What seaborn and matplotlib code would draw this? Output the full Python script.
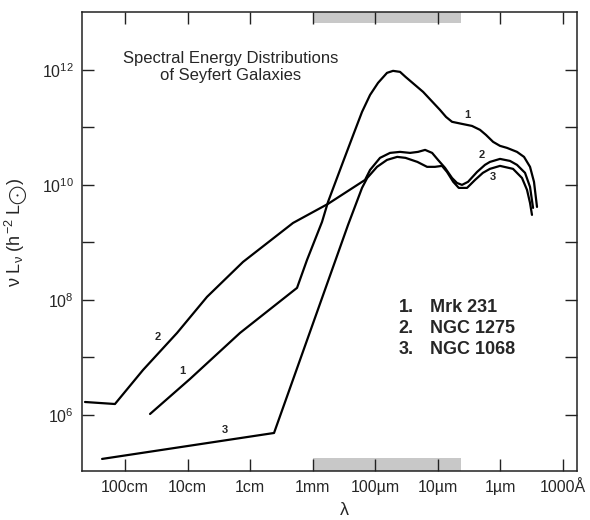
import numpy as np
import pandas as pd
import matplotlib
matplotlib.use("Agg")
import matplotlib.pyplot as plt
import matplotlib.ticker as mticker
import seaborn as sns

sns.set_style("ticks")
plt.rcParams["font.family"] = ["Liberation Sans", "DejaVu Sans"]
plt.rcParams["mathtext.fontset"] = "custom"
plt.rcParams["mathtext.rm"] = "Liberation Sans"
plt.rcParams["mathtext.it"] = "Liberation Sans"
plt.rcParams["mathtext.bf"] = "Liberation Sans:bold"

# wavelength (cm) and nu L_nu (h^-2 L_sun)
mrk231_lam = [39.8, 9.12, 1.445, 0.177, 0.1225, 0.0705, 0.0565, 0.0325, 0.0223,
              0.01614, 0.0120, 0.00895, 0.00643, 0.00515, 0.00398, 0.00325, 0.0017,
              9.12e-4, 7.31e-4, 5.86e-4, 4.06e-4, 2.81e-4, 2.09e-4, 1.68e-4, 1.29e-4,
              1.0e-4, 7.73e-5, 5.35e-5, 4.13e-5, 3.31e-5, 2.86e-5, 2.56e-5]
mrk231_lum = [1.04e6, 4.23e6, 2.67e7, 1.62e8, 4.96e8, 2.27e9, 5.06e9, 2.51e10, 7.41e10,
              1.86e11, 3.67e11, 5.94e11, 8.87e11, 9.61e11, 9.23e11, 7.55e11, 4.14e11,
              2.01e11, 1.52e11, 1.25e11, 1.15e11, 1.06e11, 9.06e10, 7.41e10, 5.60e10,
              4.77e10, 4.40e10, 3.75e10, 3.07e10, 2.06e10, 1.13e10, 4.14e9]

ngc1275_lam = [437, 145, 51.5, 14.7, 4.88, 1.294, 0.205, 0.0565, 0.01445, 0.0120,
               0.00832, 0.00575, 0.00398, 0.00275, 0.00205, 0.00158, 0.00122, 9.82e-4,
               7.59e-4, 5.86e-4, 4.88e-4, 4.06e-4, 3.25e-4, 2.33e-4, 1.74e-4, 1.45e-4,
               1.0e-4, 6.92e-5, 5.35e-5, 3.98e-5, 3.31e-5, 2.96e-5]
ngc1275_lum = [1.68e6, 1.55e6, 6.06e6, 2.67e7, 1.13e8, 4.58e8, 2.18e9, 4.68e9, 1.22e10,
               1.82e10, 2.95e10, 3.60e10, 3.75e10, 3.60e10, 3.75e10, 4.06e10, 3.60e10,
               2.72e10, 1.98e10, 1.32e10, 1.08e10, 1.0e10, 1.13e10, 1.68e10, 2.23e10,
               2.51e10, 2.83e10, 2.61e10, 2.23e10, 1.62e10, 9.22e9, 3.98e9]

ngc1068_lam = [233, 0.413, 0.027, 0.01614, 0.01334, 0.00929, 0.00643, 0.00442, 0.00325,
               0.0021, 0.00147, 0.00110, 8.48e-4, 7.05e-4, 5.6e-4, 4.57e-4, 3.37e-4,
               2.51e-4, 1.88e-4, 1.45e-4, 1.0e-4, 6.19e-5, 4.45e-5, 3.70e-5, 3.31e-5,
               3.08e-5]
ngc1068_lum = [1.72e5, 4.86e5, 2.02e9, 8.87e9, 1.32e10, 2.06e10, 2.72e10, 3.07e10, 2.95e10,
               2.51e10, 2.06e10, 2.06e10, 2.14e10, 1.68e10, 1.13e10, 8.87e9, 8.87e9,
               1.22e10, 1.62e10, 1.90e10, 2.14e10, 1.90e10, 1.32e10, 8.19e9, 4.86e9,
               3.01e9]

galaxies = ["Mrk 231", "NGC 1275", "NGC 1068"]

tick_lam = [100, 10, 1, 0.1, 0.01, 1e-3, 1e-4, 1e-5]
tick_names = ["100cm", "10cm", "1cm", "1mm", "100µm", "10µm", "1µm", "1000Å"]
band_lam = (0.1, 4.2e-4)

frames = []
for name, lam, lum in zip(galaxies,
                          [mrk231_lam, ngc1275_lam, ngc1068_lam],
                          [mrk231_lum, ngc1275_lum, ngc1068_lum]):
    frames.append(pd.DataFrame({"lam": lam, "lum": lum, "galaxy": name}))
df = pd.concat(frames, ignore_index=True)

fig = plt.figure(figsize=(5.9, 5.2), dpi=100)
ax = fig.add_axes([0.139, 0.0942, 0.839, 0.883])
ax.set_xscale("log")
ax.set_yscale("log")
ax.set_axisbelow(False)

sns.lineplot(data=df, x="lam", y="lum", hue="galaxy", palette=["black"] * 3,
             sort=False, estimator=None, legend=False, lw=1.6, ax=ax)

ax.set_xlim(488, 5.86e-6)
ax.set_ylim(1.06e5, 1.02e13)

# shaded band top and bottom
ax.axvspan(band_lam[0], band_lam[1], ymin=0, ymax=0.028, color="#c8c8c8", lw=0, zorder=0)
ax.axvspan(band_lam[0], band_lam[1], ymin=0.975, ymax=1, color="#c8c8c8", lw=0, zorder=0)

ax.set_xticks(tick_lam)
ax.set_xticklabels(tick_names)
yt = [10.0 ** k for k in range(6, 13)]
ax.set_yticks(yt)
ax.set_yticklabels([r"$10^{%d}$" % k if k % 2 == 0 else "" for k in range(6, 13)])
ax.xaxis.set_minor_locator(mticker.NullLocator())
ax.yaxis.set_minor_locator(mticker.NullLocator())
ax.tick_params(axis="both", which="major", direction="in", length=8.5, width=1.0,
               top=True, right=True, labelsize=11.5, color="#222222")
ax.tick_params(axis="x", pad=6.5)
ax.tick_params(axis="y", pad=6)
for s in ax.spines.values():
    s.set_linewidth(1.1)
    s.set_color("#222222")

ax.set_xlabel("λ", fontsize=13)
ax.set_ylabel(r"$\nu\ L_\nu\ (h^{-2}\ L_{\bigodot})$", fontsize=13)
ax.xaxis.set_label_coords(0.531, -0.068)
ax.yaxis.set_label_coords(-0.105, 0.52)

ax.text(0.301, 0.880, "Spectral Energy Distributions\nof Seyfert Galaxies",
        transform=ax.transAxes, ha="center", va="center", fontsize=12,
        linespacing=1.1)

for i, name in enumerate(galaxies):
    y = 0.357 - i * 0.046
    ax.text(0.640, y, f"{i + 1}.", transform=ax.transAxes, ha="left", va="center",
            fontsize=13, fontweight="bold")
    ax.text(0.703, y, name, transform=ax.transAxes, ha="left", va="center",
            fontsize=13, fontweight="bold")

curve_tags = [("1", 0.778, 0.776), ("2", 0.808, 0.688), ("3", 0.830, 0.641),
              ("2", 0.152, 0.292), ("1", 0.202, 0.218), ("3", 0.289, 0.089)]
for t, x, y in curve_tags:
    ax.text(x, y, t, transform=ax.transAxes, ha="center", va="center",
            fontsize=8, fontweight="bold")

fig.savefig("out.png", dpi=100)
